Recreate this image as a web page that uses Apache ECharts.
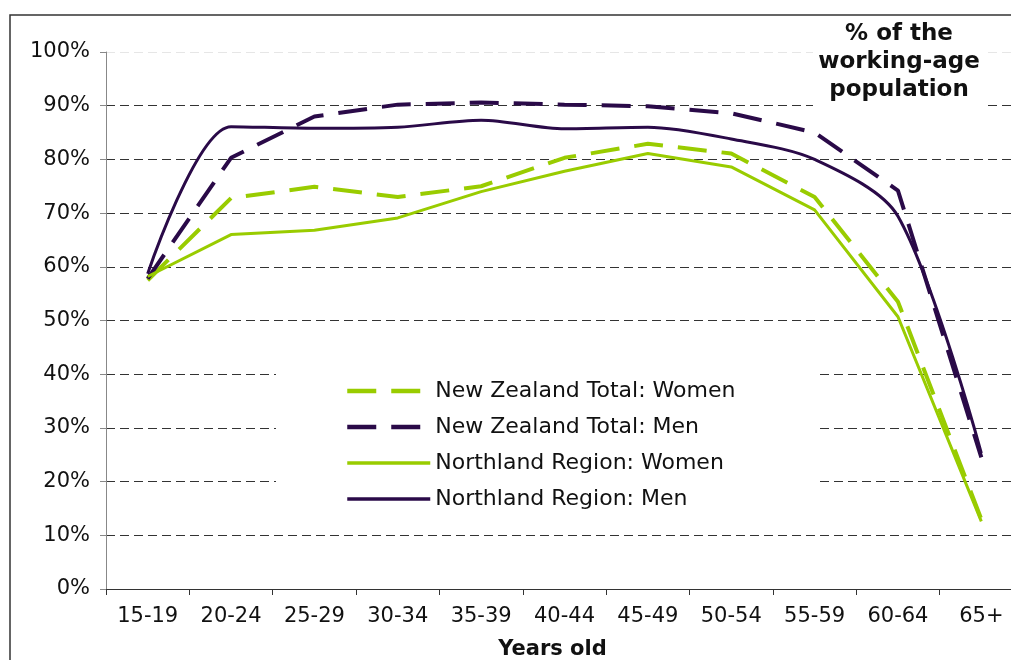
<!DOCTYPE html>
<html>
<head>
<meta charset="utf-8">
<script src="https://cdn.jsdelivr.net/npm/echarts@6/dist/echarts.min.js"></script>
<style>
  html, body { margin: 0; padding: 0; background: #fff; }
  #chart { width: 1011px; height: 660px; }
</style>
</head>
<body>
<div id="chart"></div>
<script>
const ageGroups = ['15-19', '20-24', '25-29', '30-34', '35-39', '40-44', '45-49', '50-54', '55-59', '60-64', '65+']
const yTicks = [0, 10, 20, 30, 40, 50, 60, 70, 80, 90, 100]

// % of the working-age population in the labour force
const nzWomen = [57.5, 72.8, 74.9, 73.0, 75.0, 80.3, 82.9, 81.1, 73.0, 53.5, 13.0]
const nzMen = [57.8, 80.3, 88.0, 90.2, 90.6, 90.2, 89.9, 88.6, 85.0, 74.2, 24.5]
const northlandWomen = [58.2, 66.0, 66.8, 69.1, 74.0, 77.8, 81.1, 78.6, 70.6, 50.7, 12.6]
const northlandMen = [58.7, 86.1, 85.8, 86.0, 87.3, 85.7, 86.0, 83.8, 80.0, 69.4, 25.3]

const GREEN = '#99cc00'
const PURPLE = '#2a0a48'
const FONT = '"DejaVu Sans", Verdana, sans-serif'
const DASH = [29, 15]

const chart = echarts.init(document.getElementById('chart'))

// top gridline (100%) is barely visible in the original
const gridColors = yTicks.map((v) => (v === 100 ? '#e6e6e6' : '#333'))

const option = {
  animation: false,
  backgroundColor: '#fff',
  textStyle: { fontFamily: FONT },
  grid: {
    left: 106,
    top: 52,
    width: 917,
    bottom: 71,
    outerBoundsMode: 'none',
  },
  legend: {
    orient: 'vertical',
    left: 276,
    top: 355,
    padding: [24, 82, 15, 69],
    backgroundColor: '#fff',
    itemWidth: 83,
    itemHeight: 14,
    itemGap: 12,
    itemStyle: { opacity: 0 },
    textStyle: { fontSize: 22, lineHeight: 24, color: '#111', fontFamily: FONT },
    data: [
      { name: 'New Zealand Total: Women', lineStyle: { width: 4.5, type: DASH } },
      { name: 'New Zealand Total: Men', lineStyle: { width: 4.5, type: DASH } },
      { name: 'Northland Region: Women', lineStyle: { width: 3.5 } },
      { name: 'Northland Region: Men', lineStyle: { width: 3.5 } },
    ],
  },
  xAxis: {
    type: 'category',
    data: ageGroups,
    boundaryGap: true,
    name: 'Years old',
    nameLocation: 'middle',
    nameGap: 50,
    nameTextStyle: { fontSize: 21, fontWeight: 'bold', color: '#111', padding: [0, 24, 0, 0] },
    axisLine: { lineStyle: { color: '#333', width: 1 } },
    axisTick: { show: true, length: 6, lineStyle: { color: '#333' } },
    axisLabel: { fontSize: 21, color: '#111', margin: 17, interval: 0 },
    splitLine: { show: false },
  },
  yAxis: {
    type: 'value',
    min: 0,
    max: 100,
    interval: 10,
    axisLine: { show: true, lineStyle: { color: '#888', width: 1 } },
    axisTick: { show: true, length: 6, lineStyle: { color: '#888' } },
    axisLabel: { fontSize: 21, color: '#111', margin: 16, formatter: '{value}%' },
    splitLine: { show: true, lineStyle: { color: gridColors, type: [9, 5], width: 1 } },
  },
  series: [
    {
      name: 'New Zealand Total: Women',
      type: 'line',
      data: nzWomen,
      symbol: 'none',
      lineStyle: { color: GREEN, width: 4, type: DASH },
      itemStyle: { color: GREEN },
    },
    {
      name: 'New Zealand Total: Men',
      type: 'line',
      data: nzMen,
      symbol: 'none',
      lineStyle: { color: PURPLE, width: 4, type: DASH },
      itemStyle: { color: PURPLE },
    },
    {
      name: 'Northland Region: Women',
      type: 'line',
      data: northlandWomen,
      symbol: 'none',
      lineStyle: { color: GREEN, width: 3 },
      itemStyle: { color: GREEN },
    },
    {
      name: 'Northland Region: Men',
      type: 'line',
      data: northlandMen,
      symbol: 'none',
      smooth: 0.3,
      smoothMonotone: 'none',
      lineStyle: { color: PURPLE, width: 3 },
      itemStyle: { color: PURPLE },
    },
  ],
  graphic: [
    {
      type: 'rect',
      z: 1,
      shape: { x: 813, y: 16, width: 174, height: 96 },
      style: { fill: '#fff' },
    },
    {
      type: 'text',
      z: 2,
      x: 899,
      y: 62,
      style: {
        text: '% of the\nworking-age\npopulation',
        fontFamily: FONT,
        fontSize: 23,
        fontWeight: 'bold',
        lineHeight: 28,
        fill: '#111',
        align: 'center',
        verticalAlign: 'middle',
      },
    },
    {
      type: 'rect',
      z: 10,
      shape: { x: 10, y: 15, width: 1040, height: 700 },
      style: { fill: 'none', stroke: '#333', lineWidth: 1.5 },
    },
  ],
}

chart.setOption(option)
</script>
</body>
</html>
